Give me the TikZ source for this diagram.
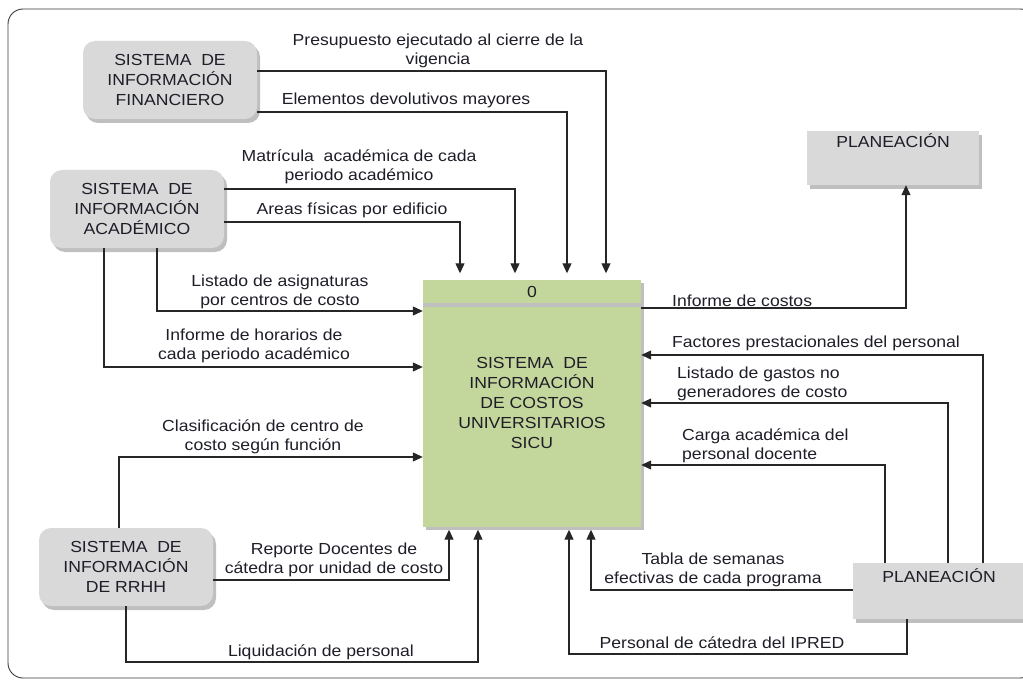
\documentclass[tikz,border=0pt]{standalone}
\usepackage{fontspec}
\setmainfont{Liberation Sans}[FakeStretch=1.1]
\usepackage{tikz}
\usetikzlibrary{arrows.meta,shadows}
\definecolor{cajagris}{HTML}{D9D9D9}
\definecolor{sombra}{HTML}{BFBFBF}
\definecolor{verde}{HTML}{C3D69B}
\definecolor{texto}{HTML}{1E1E28}
\definecolor{marco}{HTML}{3A3A3A}
\newcommand{\txtcaja}{\fontsize{16}{20}\selectfont}
\newcommand{\txtflujo}{\fontsize{16}{18.5}\selectfont}
\tikzstyle{sistema} = [fill=cajagris, rounded corners=12pt, align=center, text=texto, font=\txtcaja, minimum width=174pt, minimum height=78pt, drop shadow={shadow xshift=3pt, shadow yshift=-4pt, fill=sombra, opacity=1}]
\tikzstyle{externo} = [fill=cajagris, align=center, text=texto, font=\txtcaja, text height=12pt, drop shadow={shadow xshift=3pt, shadow yshift=-4pt, fill=sombra, opacity=1}]
\tikzstyle{proceso} = [fill=verde, align=center, text=texto, font=\txtcaja, drop shadow={shadow xshift=3pt, shadow yshift=-3pt, fill=sombra, opacity=1}]
\tikzstyle{etiqueta} = [align=center, inner sep=0pt, text=texto, font=\txtflujo]
\tikzstyle{flujo} = [draw=black!85, line width=1.1pt, -{Triangle[length=10pt,width=9pt]}]

\begin{document}
\begin{tikzpicture}[x=1pt, y=-1pt]
		\useasboundingbox (0,0) rectangle (1023,682);
		\draw[marco, line width=0.9pt, rounded corners=15pt] (8,9) rectangle (1035,678);

		\node[sistema](fin) at (170,80) {SISTEMA\ \ DE\\INFORMACIÓN\\FINANCIERO};
		\node[sistema](acad) at (137,209) {SISTEMA\ \ DE\\INFORMACIÓN\\ACADÉMICO};
		\node[sistema](rrhh) at (126,567) {SISTEMA\ \ DE\\INFORMACIÓN\\DE RRHH};
		\node[externo, minimum width=172pt, inner ysep=5pt, text depth=32pt](plantop) at (893,158) {PLANEACIÓN};
		\node[externo, minimum width=172pt, inner ysep=7pt, text depth=30pt](planbot) at (939,591) {PLANEACIÓN};
		\node[proceso, minimum width=218pt, minimum height=247pt](sicu) at (532,403) {SISTEMA\ \ DE\\INFORMACIÓN\\DE COSTOS\\UNIVERSITARIOS\\SICU};
		\draw[sombra, line width=4pt] (sicu.west |- 0,305) -- (sicu.east |- 0,305);
		\node[etiqueta, font=\txtcaja](num) at (532,292) {0};

		\draw[flujo, shorten >=6pt] (fin.east |- 0,71) -| (sicu.north -| 606,0);
		\draw[flujo, shorten >=6pt] (fin.east |- 0,112) -| (sicu.north -| 567,0);
		\draw[flujo, shorten >=6pt] (acad.east |- 0,189) -| (sicu.north -| 515,0);
		\draw[flujo, shorten >=6pt] (acad.east |- 0,222) -| (sicu.north -| 460,0);
		\draw[flujo] (acad.south -| 157,0) |- (sicu.west |- 0,311);
		\draw[flujo] (acad.south -| 104,0) |- (sicu.west |- 0,367);
		\draw[flujo] (rrhh.north -| 119,0) |- (sicu.west |- 0,457);
		\draw[flujo, shorten >=3pt] (rrhh.east |- 0,580) -| (sicu.south -| 449,0);
		\draw[flujo, shorten >=3pt] (rrhh.south -| 126,0) |- (478,662) -- (sicu.south -| 478,0);
		\draw[flujo] (sicu.east |- 0,308) -| (plantop.south -| 906,0);
		\draw[flujo] (planbot.north -| 983,0) |- (sicu.east |- 0,355);
		\draw[flujo] (planbot.north -| 948,0) |- (sicu.east |- 0,403);
		\draw[flujo] (planbot.north -| 885,0) |- (sicu.east |- 0,465);
		\draw[flujo, shorten >=3pt] (planbot.west |- 0,590) -| (sicu.south -| 591,0);
		\draw[flujo, shorten >=3pt] (planbot.south -| 907,0) |- (569,654) -- (sicu.south -| 569,0);

		\node[etiqueta](presupuesto) at (438,51) {Presupuesto ejecutado al cierre de la\\vigencia};
		\node[etiqueta](elementos) at (406,100) {Elementos devolutivos mayores};
		\node[etiqueta](matricula) at (359,167) {Matrícula\ \ académica de cada\\periodo académico};
		\node[etiqueta](areas) at (352,210) {Areas físicas por edificio};
		\node[etiqueta](asignaturas) at (280,292) {Listado de asignaturas\\por centros de costo};
		\node[etiqueta](horarios) at (254,346) {Informe de horarios de\\cada periodo académico};
		\node[etiqueta](clasificacion) at (263,437) {Clasificación de centro de\\costo según función};
		\node[etiqueta](reporte) at (334,560) {Reporte Docentes de\\cátedra por unidad de costo};
		\node[etiqueta](liquidacion) at (321,652) {Liquidación de personal};
		\node[etiqueta, anchor=west](costos) at (672,301) {Informe de costos};
		\node[etiqueta, anchor=west](factores) at (672,343) {Factores prestacionales del personal};
		\node[etiqueta, anchor=west, align=left](gastos) at (677,384) {Listado de gastos no\\generadores de costo};
		\node[etiqueta, anchor=west, align=left](carga) at (682,446) {Carga académica del\\personal docente};
		\node[etiqueta](semanas) at (713,570) {Tabla de semanas\\efectivas de cada programa};
		\node[etiqueta](ipred) at (722,643) {Personal de cátedra del IPRED};
	\end{tikzpicture}
\end{document}
